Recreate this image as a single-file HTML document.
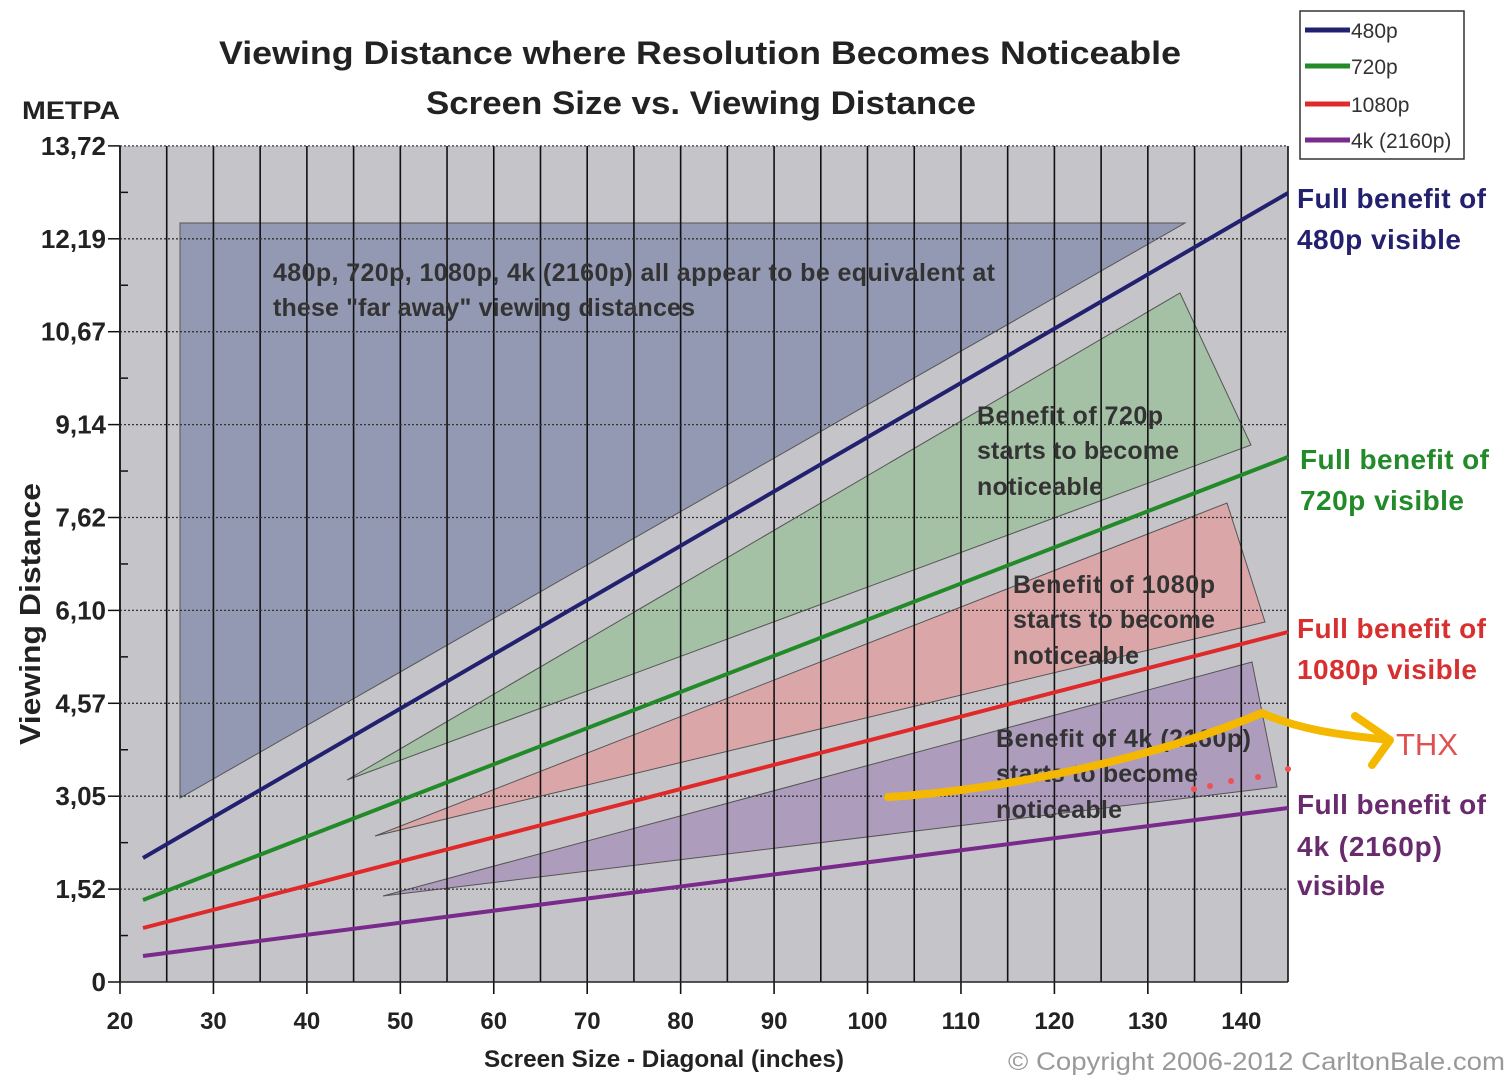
<!DOCTYPE html>
<html><head><meta charset="utf-8"><style>
html,body{margin:0;padding:0;background:#fff;}
svg{display:block;font-family:"Liberation Sans",sans-serif;}
.b{font-weight:bold;}
</style></head><body>
<svg id="s" width="1512" height="1080" viewBox="0 0 1512 1080" xmlns="http://www.w3.org/2000/svg">
<rect x="120" y="146" width="1168" height="836" fill="#c5c5c9"/>
<polygon points="180,223 1185,223 180,798" fill="#9399b2" stroke="#555" stroke-width="1"/>
<polygon points="347,780 1180,293 1251,445" fill="#a5c1a5" stroke="#555" stroke-width="1"/>
<polygon points="375,836 1227,503 1265,622" fill="#dba6a8" stroke="#555" stroke-width="1"/>
<polygon points="383,896 1252,662 1277,787" fill="#ae9cbc" stroke="#555" stroke-width="1"/>
<g id="grid"></g>
<line x1="143" y1="858" x2="1288" y2="193" stroke="#232070" stroke-width="4"/>
<line x1="143" y1="900" x2="1288" y2="457" stroke="#238a2a" stroke-width="4"/>
<line x1="143" y1="928" x2="1288" y2="632" stroke="#e02a2a" stroke-width="4"/>
<line x1="143" y1="956" x2="1288" y2="808" stroke="#7a2a8a" stroke-width="4"/>
<line x1="120" y1="146" x2="120" y2="982" stroke="#222" stroke-width="2"/>
<line x1="120" y1="982" x2="1288" y2="982" stroke="#222" stroke-width="1.5"/>
<g class="b" font-size="32" fill="#222">
<text x="219" y="64" textLength="962" lengthAdjust="spacingAndGlyphs">Viewing Distance where Resolution Becomes Noticeable</text>
<text x="426" y="114" textLength="550" lengthAdjust="spacingAndGlyphs">Screen Size vs. Viewing Distance</text>
</g>
<text x="22" y="119" class="b" font-size="25" fill="#222" textLength="98" lengthAdjust="spacingAndGlyphs">METPA</text>
<g class="b" font-size="26" fill="#222" text-anchor="end" id="yl"></g>
<g class="b" font-size="24" fill="#222" text-anchor="middle" id="xl"></g>
<text transform="translate(40,614) rotate(-90)" class="b" font-size="29" fill="#222" text-anchor="middle" textLength="262" lengthAdjust="spacingAndGlyphs">Viewing Distance</text>
<text x="484" y="1067" class="b" font-size="24" fill="#222" textLength="360" lengthAdjust="spacingAndGlyphs">Screen Size - Diagonal (inches)</text>
<text x="1008" y="1070" font-size="25" fill="#999" textLength="497" lengthAdjust="spacingAndGlyphs">© Copyright 2006-2012 CarltonBale.com</text>
<g class="b" font-size="25" fill="#333" lengthAdjust="spacingAndGlyphs">
<text x="273" y="281" textLength="722">480p, 720p, 1080p, 4k (2160p) all appear to be equivalent at</text>
<text x="273" y="316" textLength="422">these "far away" viewing distances</text>
<text x="977" y="424" textLength="186">Benefit of 720p</text>
<text x="977" y="459" textLength="202">starts to become</text>
<text x="977" y="495" textLength="126">noticeable</text>
<text x="1013" y="593" textLength="202">Benefit of 1080p</text>
<text x="1013" y="628" textLength="202">starts to become</text>
<text x="1013" y="664" textLength="126">noticeable</text>
<text x="996" y="747" textLength="255">Benefit of 4k (2160p)</text>
<text x="996" y="782" textLength="202">starts to become</text>
<text x="996" y="818" textLength="126">noticeable</text>
</g>
<g class="b" font-size="28">
<text x="1297" y="208" fill="#232070" textLength="189">Full benefit of</text>
<text x="1297" y="249" fill="#232070" textLength="164">480p visible</text>
<text x="1300" y="469" fill="#238a2a" textLength="189">Full benefit of</text>
<text x="1300" y="510" fill="#238a2a" textLength="164">720p visible</text>
<text x="1297" y="638" fill="#d83030" textLength="189">Full benefit of</text>
<text x="1297" y="679" fill="#d83030" textLength="180">1080p visible</text>
<text x="1297" y="814" fill="#6a2a6e" textLength="189">Full benefit of</text>
<text x="1297" y="856" fill="#6a2a6e" textLength="145">4k (2160p)</text>
<text x="1297" y="895" fill="#6a2a6e" textLength="88">visible</text>
</g>
<rect x="1300" y="11" width="164" height="148" fill="#fff" stroke="#333" stroke-width="1.5"/>
<g stroke-width="5">
<line x1="1305" y1="30" x2="1350" y2="30" stroke="#232070"/>
<line x1="1305" y1="66" x2="1350" y2="66" stroke="#238a2a"/>
<line x1="1305" y1="104" x2="1350" y2="104" stroke="#e02a2a"/>
<line x1="1305" y1="140" x2="1350" y2="140" stroke="#7a2a8a"/>
</g>
<g font-size="21" fill="#333">
<text x="1351" y="38">480p</text><text x="1351" y="74">720p</text>
<text x="1351" y="112">1080p</text><text x="1351" y="148">4k (2160p)</text>
</g>
<path d="M888,797 C1000,790 1150,760 1262,713 C1300,730 1340,735 1390,740 M1355,716 L1390,740 L1372,765" fill="none" stroke="#f5b800" stroke-width="8" stroke-linecap="round" stroke-linejoin="round"/>
<text x="1396" y="755" font-size="31" fill="#e05050">THX</text>
<g fill="#f05050"><circle cx="1194" cy="789" r="3"/><circle cx="1210" cy="786" r="3"/><circle cx="1231" cy="781" r="3"/><circle cx="1258" cy="777" r="3"/><circle cx="1288" cy="769" r="3"/></g>
</svg>
<script>
var ns="http://www.w3.org/2000/svg",g=document.getElementById("grid"),yl=document.getElementById("yl"),xl=document.getElementById("xl");
function el(t,a,p,tx){var e=document.createElementNS(ns,t);for(var k in a)e.setAttribute(k,a[k]);if(tx)e.textContent=tx;p.appendChild(e);}
var sx=1168/125;
for(var i=25;i<=145;i+=5){var x=120+(i-20)*sx;el("line",{x1:x,y1:146,x2:x,y2:982,stroke:"#111","stroke-width":1.6},g);}
for(var i=20;i<=140;i+=10){var x=120+(i-20)*sx;el("line",{x1:x,y1:982,x2:x,y2:994,stroke:"#111","stroke-width":1.6},g);el("text",{x:x,y:1029},xl,String(i));}
var labs=["0","1,52","3,05","4,57","6,10","7,62","9,14","10,67","12,19","13,72"];
for(var j=0;j<=9;j++){var y=982-j*92.9;
 if(j>0)el("line",{x1:120,y1:y,x2:1288,y2:y,stroke:"#333","stroke-width":1.3,"stroke-dasharray":"2,2"},g);
 el("line",{x1:108,y1:y,x2:120,y2:y,stroke:"#111","stroke-width":1.5},g);
 if(j<9){var ym=y-46.45;el("line",{x1:120,y1:ym,x2:128,y2:ym,stroke:"#111","stroke-width":1.5},g);}
 el("text",{x:106,y:y+9},yl,labs[j]);}
</script>
</body></html>
